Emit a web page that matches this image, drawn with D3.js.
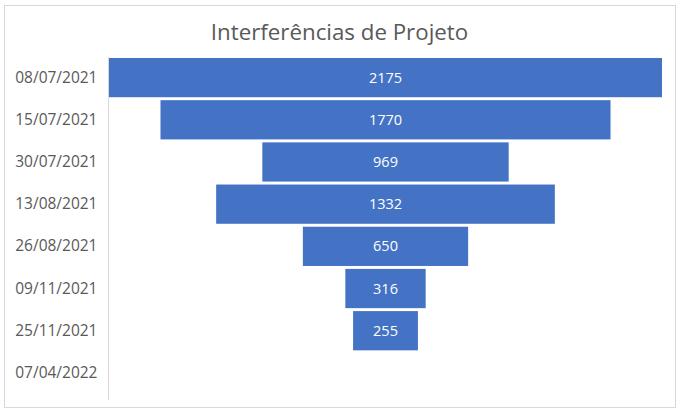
<!DOCTYPE html>
<html>
<head>
<meta charset="utf-8">
<script src="https://cdn.jsdelivr.net/npm/d3@7"></script>
<style>
  html, body { margin: 0; padding: 0; background: #fff; }
  svg { display: block; }
</style>
</head>
<body>
<svg id="chart" width="687" height="415"></svg>
<script>
const title = "Interferências de Projeto";
const categories = ["08/07/2021", "15/07/2021", "30/07/2021", "13/08/2021", "26/08/2021", "09/11/2021", "25/11/2021", "07/04/2022"];
const values = [2175, 1770, 969, 1332, 650, 316, 255, null];

const data = categories.map((c, i) => ({ cat: c, value: values[i] }));

const svg = d3.select("#chart");

// outer frame
svg.append("rect")
  .attr("x", 4.5).attr("y", 5.5)
  .attr("width", 671).attr("height", 402)
  .attr("fill", "#fff")
  .attr("stroke", "#D9D9D9")
  .attr("stroke-width", 1);

// title
svg.append("text")
  .attr("x", 339.5)
  .attr("y", 40)
  .attr("text-anchor", "middle")
  .attr("font-family", "'Open Sans', sans-serif")
  .attr("font-size", 22.3)
  .attr("fill", "#595959")
  .text(title);

const plotLeft = 109, plotRight = 662;
const cx = (plotLeft + plotRight) / 2;

const y = d3.scaleBand()
  .domain(categories)
  .range([56.5, 394])
  .paddingInner(0.07)
  .paddingOuter(0.035);

const w = d3.scaleLinear()
  .domain([0, d3.max(values)])
  .range([0, plotRight - plotLeft]);

// axis
const yAxis = d3.axisLeft(y).tickSize(0).tickPadding(11);
const gAxis = svg.append("g")
  .attr("transform", `translate(108.5,0)`)
  .call(yAxis);
gAxis.select(".domain").attr("stroke", "#D9D9D9").attr("d", "M0,56.7V400");
gAxis.selectAll("text")
  .attr("font-family", "'Open Sans', sans-serif")
  .attr("font-size", 15.5)
  .attr("fill", "#595959");

// bars
const bars = data.filter(d => d.value != null);
svg.append("g").selectAll("rect")
  .data(bars)
  .join("rect")
  .attr("x", d => cx - w(d.value) / 2)
  .attr("y", d => y(d.cat))
  .attr("width", d => w(d.value))
  .attr("height", y.bandwidth())
  .attr("fill", "#4472C4");

svg.append("g").selectAll("text")
  .data(bars)
  .join("text")
  .attr("x", cx)
  .attr("y", d => y(d.cat) + y.bandwidth() / 2)
  .attr("dy", "0.35em")
  .attr("text-anchor", "middle")
  .attr("font-family", "'Open Sans', sans-serif")
  .attr("font-size", 14.5)
  .attr("fill", "#fff")
  .text(d => d.value);
</script>
</body>
</html>
